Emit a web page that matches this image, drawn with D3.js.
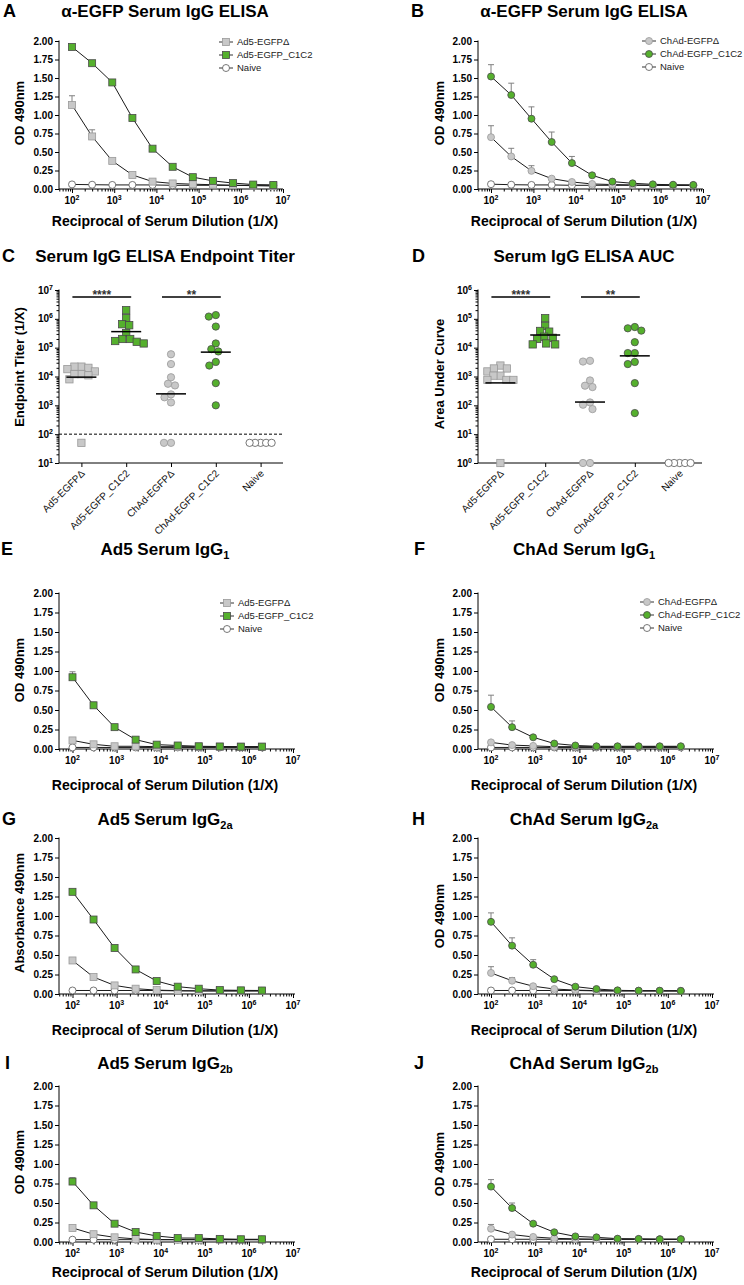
<!DOCTYPE html>
<html><head><meta charset="utf-8">
<script src="https://cdn.jsdelivr.net/npm/d3@7"></script>
<style>body{margin:0;background:#fff}svg{display:block}</style>
</head><body><svg id="c" width="744" height="1285"></svg>
<script>
// ---------------- DATA ----------------
const dilution11 = [100,300,900,2700,8100,24300,72900,218700,656100,1968300,5904900];
const dilution10 = [100,300,900,2700,8100,24300,72900,218700,656100,1968300];
const xMajorTicks = [1e2,1e3,1e4,1e5,1e6,1e7];
const odTicks = [0,0.25,0.5,0.75,1,1.25,1.5,1.75,2];
const legendAd5 = ["Ad5-EGFPΔ","Ad5-EGFP_C1C2","Naive"];
const legendChAd = ["ChAd-EGFPΔ","ChAd-EGFP_C1C2","Naive"];
const groups = ["Ad5-EGFPΔ","Ad5-EGFP_C1C2","ChAd-EGFPΔ","ChAd-EGFP_C1C2","Naive"];

// A
const A_delta    = [1.135,0.71,0.38,0.19,0.10,0.075,0.065,0.058,0.05,0.045,0.04];
const A_deltaErr = [0.125,0.09,0.02,0.01,0.01,0,0,0,0,0,0];
const A_c1c2     = [1.92,1.70,1.44,0.96,0.545,0.30,0.16,0.11,0.08,0.06,0.055];
const A_c1c2Err  = [0.01,0.01,0.01,0.02,0.01,0.01,0,0,0,0,0];
const A_naive    = [0.062,0.058,0.055,0.055,0.055,0.05,0.05,0.05,0.05,0.05,0.05];
// B
const B_delta    = [0.70,0.44,0.245,0.14,0.095,0.068,0.06,0.055,0.05,0.05,0.05];
const B_deltaErr = [0.155,0.11,0.07,0.015,0.01,0,0,0,0,0,0];
const B_c1c2     = [1.52,1.27,0.95,0.635,0.35,0.185,0.10,0.077,0.063,0.058,0.055];
const B_c1c2Err  = [0.16,0.16,0.16,0.135,0.09,0.01,0.01,0,0,0,0];
const B_naive    = [0.065,0.058,0.055,0.055,0.05,0.05,0.05,0.05,0.05,0.05,0.05];
// E  Ad5 IgG1
const E_delta    = [0.11,0.06,0.035,0.035,0.03,0.03,0.03,0.03,0.03,0.03];
const E_deltaErr = [0.02,0.01,0,0,0,0,0,0,0,0];
const E_c1c2     = [0.92,0.56,0.28,0.12,0.056,0.045,0.035,0.032,0.03,0.03];
const E_c1c2Err  = [0.07,0.04,0.01,0.01,0,0,0,0,0,0];
const E_naive    = [0.02,0.02,0.02,0.02,0.02,0.02,0.02,0.02,0.02,0.02];
// F  ChAd IgG1
const F_delta    = [0.085,0.05,0.04,0.03,0.03,0.03,0.03,0.03,0.03,0.03];
const F_deltaErr = [0.01,0.01,0,0,0,0,0,0,0,0];
const F_c1c2     = [0.54,0.28,0.15,0.07,0.045,0.035,0.035,0.035,0.035,0.035];
const F_c1c2Err  = [0.15,0.08,0.01,0.01,0,0,0,0,0,0];
const F_naive    = [0.02,0.02,0.02,0.02,0.02,0.02,0.02,0.02,0.02,0.02];
// G  Ad5 IgG2a
const G_delta    = [0.43,0.217,0.11,0.068,0.05,0.043,0.04,0.04,0.04,0.04];
const G_deltaErr = [0.02,0.01,0.01,0,0,0,0,0,0,0];
const G_c1c2     = [1.31,0.955,0.59,0.315,0.166,0.094,0.068,0.05,0.047,0.045];
const G_c1c2Err  = [0.01,0.01,0.01,0.01,0.01,0,0,0,0,0];
const G_naive    = [0.045,0.045,0.045,0.045,0.045,0.04,0.04,0.04,0.04,0.04];
// H  ChAd IgG2a
const H_delta    = [0.27,0.17,0.10,0.064,0.05,0.043,0.04,0.04,0.04,0.04];
const H_deltaErr = [0.08,0.04,0.01,0,0,0,0,0,0,0];
const H_c1c2     = [0.925,0.62,0.375,0.19,0.094,0.064,0.047,0.043,0.042,0.04];
const H_c1c2Err  = [0.115,0.10,0.065,0.01,0.01,0,0,0,0,0];
const H_naive    = [0.045,0.045,0.045,0.045,0.045,0.04,0.04,0.04,0.04,0.04];
// I  Ad5 IgG2b
const I_delta    = [0.18,0.10,0.06,0.04,0.03,0.03,0.03,0.03,0.03,0.03];
const I_deltaErr = [0.01,0.01,0,0,0,0,0,0,0,0];
const I_c1c2     = [0.775,0.47,0.235,0.128,0.077,0.051,0.05,0.04,0.035,0.035];
const I_c1c2Err  = [0.05,0.01,0.01,0.01,0,0,0,0,0,0];
const I_naive    = [0.03,0.03,0.03,0.03,0.03,0.03,0.03,0.03,0.03,0.03];
// J  ChAd IgG2b
const J_delta    = [0.17,0.095,0.065,0.047,0.04,0.035,0.035,0.035,0.035,0.035];
const J_deltaErr = [0.055,0.01,0.01,0,0,0,0,0,0,0];
const J_c1c2     = [0.71,0.435,0.235,0.125,0.072,0.06,0.043,0.04,0.035,0.035];
const J_c1c2Err  = [0.09,0.065,0.01,0.01,0,0,0,0,0,0];
const J_naive    = [0.035,0.035,0.035,0.035,0.035,0.035,0.035,0.035,0.035,0.035];

// C  Endpoint titers
const titerAd5Delta  = [22000,20000,22000,12000,15000,18000,8000,12000,11000,50];
const titerAd5C1C2   = [2000000,1050000,650000,600000,320000,200000,200000,170000,160000,140000];
const titerChAdDelta = [59000,27000,9400,4900,5600,2400,1900,1260,50,50];
const titerChAdC1C2  = [1200000,1350000,540000,140000,74000,89000,24000,32000,5900,1000];
const titerNaive     = [50,50,50,50,50];
const titerCenter    = [9500,360000,2500,70000];
const titerLimit     = 100;
const titerTicks     = [1e1,1e2,1e3,1e4,1e5,1e6,1e7];
// D  AUC
const aucAd5Delta  = [2400,1500,1900,1900,1070,1070,760,760,760,1];
const aucAd5C1C2   = [105000,57000,38000,36000,24000,22000,20000,13000,14000,13000];
const aucChAdDelta = [3300,3500,730,430,480,105,126,74,1,1];
const aucChAdC1C2  = [47000,39000,52000,15500,6500,6500,2700,3200,590,54];
const aucNaive     = [1,1,1,1,1];
const aucCenter    = [600,27500,130,5200];
const aucTicks     = [1e0,1e1,1e2,1e3,1e4,1e5,1e6];
const sigLabels    = ["****","**"];

// ---------------- DRAWING ----------------
const FONT = '"Liberation Sans", Arial, Helvetica, sans-serif';
const GREEN = "#55b02d", GREEN_S = "#4a4a4a", GRAY = "#c8c8c8", GRAY_S = "#999999", NAIVE_S = "#555";
const svg = d3.select("#c").attr("font-family", FONT);

const styles = {
  delta: {fill: GRAY, stroke: GRAY_S},
  c1c2:  {fill: GREEN, stroke: GREEN_S},
  naive: {fill: "#fff", stroke: NAIVE_S}
};

function drawMarkers(g, pts, shape, st, size) {
  if (shape === "square") {
    g.selectAll(null).data(pts).join("rect")
      .attr("x", d => d[0] - size/2).attr("y", d => d[1] - size/2)
      .attr("width", size).attr("height", size)
      .attr("fill", st.fill).attr("stroke", st.stroke).attr("stroke-width", 0.8);
  } else {
    g.selectAll(null).data(pts).join("circle")
      .attr("cx", d => d[0]).attr("cy", d => d[1]).attr("r", size/2)
      .attr("fill", st.fill).attr("stroke", st.stroke).attr("stroke-width", 0.8);
  }
}

function letter(x, y, s) {
  svg.append("text").attr("x", x).attr("y", y).attr("font-size", 18).attr("font-weight", "bold").text(s);
}
function title(cx, y, main, sub) {
  const t = svg.append("text").attr("x", cx).attr("y", y).attr("text-anchor", "middle")
    .attr("font-size", 17).attr("font-weight", "bold").text(main);
  if (sub) t.append("tspan").attr("font-size", 11).attr("dy", 4).text(sub);
}
function ylabel(x, y, s) {
  svg.append("text").attr("transform", `translate(${x},${y}) rotate(-90)`).attr("dy", "0.35em")
    .attr("text-anchor", "middle").attr("font-size", 13).attr("font-weight", "bold").text(s);
}
function xtitle(cx, y, s) {
  svg.append("text").attr("x", cx).attr("y", y).attr("text-anchor", "middle")
    .attr("font-size", 14).attr("font-weight", "bold").text(s);
}
function powLabel(g, x, y, exp, anchor) {
  const t = g.append("text").attr("x", x).attr("y", y).attr("text-anchor", anchor)
    .attr("font-size", 10).attr("font-weight", "bold").text("10");
  t.append("tspan").attr("font-size", 7).attr("dy", -4).text(exp);
}

function linePanel(p) {
  const g = svg.append("g");
  const x = d3.scaleLog().domain([1e2, 1e7]).range([p.x2, p.x7]);
  const y = d3.scaleLinear().domain([0, 2]).range([p.yBot, p.yTop]);
  // y axis
  const ya = g.append("g").attr("transform", `translate(${p.axisX},0)`)
    .call(d3.axisLeft(y).tickValues(odTicks).tickFormat(d3.format(".2f")).tickSize(4).tickPadding(2));
  ya.select(".domain").remove();
  ya.attr("font-family", FONT).attr("font-size", 10).attr("font-weight", "bold");
  ya.selectAll("text").attr("fill", "#000");
  g.append("line").attr("x1", p.axisX).attr("x2", p.axisX).attr("y1", p.yTop - 0.5).attr("y2", p.yBot).attr("stroke", "#000");
  // x axis
  const minors = [];
  for (let k = 1; k < 7; k++) for (let m = 2; m < 10; m++) { const v = m * Math.pow(10, k); if (x(v) >= p.axisX) minors.push(v); }
  const xa1 = g.append("g").attr("transform", `translate(0,${p.yBot})`)
    .call(d3.axisBottom(x).tickValues(xMajorTicks).tickSize(4).tickFormat(""));
  const xa2 = g.append("g").attr("transform", `translate(0,${p.yBot})`)
    .call(d3.axisBottom(x).tickValues(minors).tickSize(2.5).tickFormat(""));
  xa1.select(".domain").remove(); xa2.select(".domain").remove();
  g.append("line").attr("x1", p.axisX).attr("x2", p.xEnd).attr("y1", p.yBot).attr("y2", p.yBot).attr("stroke", "#000");
  xMajorTicks.forEach(v => powLabel(g, x(v), p.yBot + 15, String(Math.round(Math.log10(v))), "middle"));
  // series
  const dil = p.dil;
  const line = d3.line().x((d, i) => x(dil[i])).y(d => y(d));
  const order = ["naive", "delta", "c1c2"];
  order.forEach(k => {
    g.append("path").datum(p.series[k].vals).attr("d", line).attr("fill", "none").attr("stroke", "#1a1a1a").attr("stroke-width", 1);
  });
  order.forEach(k => {
    const s = p.series[k];
    if (!s.err) return;
    const eb = s.vals.map((v, i) => ({x: x(dil[i]), y0: y(v), y1: y(v + s.err[i]), e: s.err[i]})).filter(d => d.e > 0.015);
    g.selectAll(null).data(eb).join("path")
      .attr("d", d => `M${d.x},${d.y0}V${d.y1}M${d.x - 3},${d.y1}H${d.x + 3}`)
      .attr("fill", "none").attr("stroke", "#808080").attr("stroke-width", 1);
  });
  order.forEach(k => {
    const s = p.series[k];
    const pts = s.vals.map((v, i) => [x(dil[i]), y(v)]);
    drawMarkers(g, pts, k === "naive" ? "circle" : p.shape, styles[k], 7);
  });
  // legend
  if (p.legend) {
    const keys = ["delta", "c1c2", "naive"];
    p.legend.forEach((name, i) => {
      const cy = p.legY + i * 13;
      g.append("line").attr("x1", p.legX - 7).attr("x2", p.legX + 7).attr("y1", cy).attr("y2", cy).attr("stroke", "#333");
      drawMarkers(g, [[p.legX, cy]], keys[i] === "naive" ? "circle" : p.shape, styles[keys[i]], 7);
      g.append("text").attr("x", p.legX + 11).attr("y", cy + 3.4).attr("font-size", 9.5).attr("fill", "#222").text(name);
    });
  }
  letter(p.letterX, p.titleY, p.letter);
  title(p.titleX, p.titleY, p.title, p.sub);
  ylabel(p.ylabX, p.ylabY, p.ylab);
  xtitle(p.titleX, p.xtitleY, "Reciprocal of Serum Dilution (1/X)");
}

// beeswarm: place each point at the smallest horizontal offset that avoids overlap
function swarmOffsets(values, yScale, minDist) {
  const idx = values.map((v, i) => i).sort((a, b) => values[b] - values[a]);
  const placed = [], off = new Array(values.length).fill(0);
  idx.forEach(i => {
    const yy = yScale(values[i]);
    for (let k = 0; k < 80; k++) {
      const o = k === 0 ? 0 : (k % 2 ? -1 : 1) * Math.ceil(k / 2) * 0.5;
      if (placed.every(p => Math.hypot(p[0] - o, p[1] - yy) >= minDist - 1e-6)) { off[i] = o; placed.push([o, yy]); break; }
    }
  });
  return off;
}

function scatterPanel(p) {
  const g = svg.append("g");
  const x = d3.scalePoint().domain(groups).range([p.x0, p.x1]).padding(0.5);
  const y = d3.scaleLog().domain(p.domain).range([p.yBot, p.yTop]);
  // y axis
  const lo = Math.round(Math.log10(p.domain[0])), hi = Math.round(Math.log10(p.domain[1]));
  const minors = [];
  for (let k = lo; k < hi; k++) for (let m = 2; m < 10; m++) minors.push(m * Math.pow(10, k));
  const ya1 = g.append("g").attr("transform", `translate(${p.x0},0)`).call(d3.axisLeft(y).tickValues(p.ticks).tickSize(4).tickFormat(""));
  const ya2 = g.append("g").attr("transform", `translate(${p.x0},0)`).call(d3.axisLeft(y).tickValues(minors).tickSize(2.5).tickFormat(""));
  ya1.select(".domain").remove(); ya2.select(".domain").remove();
  g.append("line").attr("x1", p.x0).attr("x2", p.x0).attr("y1", p.yTop - 0.5).attr("y2", p.yBot).attr("stroke", "#000");
  p.ticks.forEach(v => powLabel(g, p.x0 - 6, y(v) + 3.5, String(Math.round(Math.log10(v))), "end"));
  // x axis
  g.append("line").attr("x1", p.x0).attr("x2", p.x1).attr("y1", p.yBot).attr("y2", p.yBot).attr("stroke", "#000");
  const xa = g.append("g").attr("transform", `translate(0,${p.yBot})`).call(d3.axisBottom(x).tickSize(4).tickFormat(""));
  xa.select(".domain").remove();
  groups.forEach(c => {
    g.append("text").attr("transform", `translate(${x(c) + 4},${p.yBot + 11}) rotate(-45)`)
      .attr("text-anchor", "end").attr("font-size", 10).attr("fill", "#111").text(c);
  });
  if (p.limit) {
    g.append("line").attr("x1", p.x0).attr("x2", p.x1).attr("y1", y(p.limit)).attr("y2", y(p.limit))
      .attr("stroke", "#000").attr("stroke-dasharray", "3,2");
  }
  // points
  const shapes = ["square", "square", "circle", "circle", "circle"];
  const st = [styles.delta, styles.c1c2, styles.delta, styles.c1c2, styles.naive];
  p.sets.forEach((vals, gi) => {
    const off = swarmOffsets(vals, y, gi === 4 ? 5.4 : 7);
    const pts = vals.map((v, i) => [x(groups[gi]) + off[i], y(v)]);
    drawMarkers(g, pts, shapes[gi], st[gi], 7.3);
  });
  // center lines
  p.center.forEach((v, gi) => {
    const cx = x(groups[gi]);
    g.append("line").attr("x1", cx - 15).attr("x2", cx + 15).attr("y1", y(v)).attr("y2", y(v))
      .attr("stroke", "#000").attr("stroke-width", 1.5);
  });
  // significance
  [[0, 1], [2, 3]].forEach((pr, k) => {
    const xa_ = x(groups[pr[0]]) - 9, xb_ = x(groups[pr[1]]) + 5;
    g.append("line").attr("x1", xa_).attr("x2", xb_).attr("y1", p.sigY).attr("y2", p.sigY).attr("stroke", "#000").attr("stroke-width", 1.4);
    g.append("text").attr("x", (xa_ + xb_) / 2).attr("y", p.sigY + 2).attr("text-anchor", "middle")
      .attr("font-size", 12).attr("font-weight", "bold").attr("fill", "#333").text(sigLabels[k]);
  });
  letter(p.letterX, p.titleY, p.letter);
  title(p.titleX, p.titleY, p.title);
  ylabel(p.ylabX, p.ylabY, p.ylab);
}

// ---------------- PANELS ----------------
linePanel({letter: "A", letterX: 3, title: "α-EGFP Serum IgG ELISA", titleX: 165, titleY: 17,
  axisX: 59, x2: 72, x7: 283, xEnd: 283, yTop: 41, yBot: 189, dil: dilution11, shape: "square",
  series: {delta: {vals: A_delta, err: A_deltaErr}, c1c2: {vals: A_c1c2, err: A_c1c2Err}, naive: {vals: A_naive}},
  legend: legendAd5, legX: 226, legY: 42, ylab: "OD 490nm", ylabX: 19, ylabY: 113, xtitleY: 226});
linePanel({letter: "B", letterX: 411, title: "α-EGFP Serum IgG ELISA", titleX: 584, titleY: 17,
  axisX: 478, x2: 491, x7: 703, xEnd: 703, yTop: 41, yBot: 189, dil: dilution11, shape: "circle",
  series: {delta: {vals: B_delta, err: B_deltaErr}, c1c2: {vals: B_c1c2, err: B_c1c2Err}, naive: {vals: B_naive}},
  legend: legendChAd, legX: 649, legY: 41, ylab: "OD 490nm", ylabX: 439, ylabY: 113, xtitleY: 226});

scatterPanel({letter: "C", letterX: 2, title: "Serum IgG ELISA Endpoint Titer", titleX: 165, titleY: 262,
  x0: 59, x1: 283, yTop: 290, yBot: 463, domain: [1e1, 1e7], ticks: titerTicks, limit: titerLimit,
  sets: [titerAd5Delta, titerAd5C1C2, titerChAdDelta, titerChAdC1C2, titerNaive], center: titerCenter,
  sigY: 297, ylab: "Endpoint Titer (1/X)", ylabX: 19, ylabY: 367});
scatterPanel({letter: "D", letterX: 412, title: "Serum IgG ELISA AUC", titleX: 584, titleY: 262,
  x0: 478, x1: 702, yTop: 290, yBot: 463, domain: [1e0, 1e6], ticks: aucTicks, limit: null,
  sets: [aucAd5Delta, aucAd5C1C2, aucChAdDelta, aucChAdC1C2, aucNaive], center: aucCenter,
  sigY: 297, ylab: "Area Under Curve", ylabX: 439, ylabY: 374});

const lowerPanels = [
  {letter: "E", letterX: 1, title: "Ad5 Serum IgG", sub: "1", left: true, yTop: 593, yBot: 749, titleY: 555, xtitleY: 790,
   s: [E_delta, E_deltaErr, E_c1c2, E_c1c2Err, E_naive], legend: legendAd5, legY: 603, ylab: "OD 490nm", ylabY: 670},
  {letter: "F", letterX: 414, title: "ChAd Serum IgG", sub: "1", left: false, yTop: 593, yBot: 749, titleY: 555, xtitleY: 790,
   s: [F_delta, F_deltaErr, F_c1c2, F_c1c2Err, F_naive], legend: legendChAd, legY: 602, ylab: "OD 490nm", ylabY: 670},
  {letter: "G", letterX: 2, title: "Ad5 Serum IgG", sub: "2a", left: true, yTop: 838, yBot: 994, titleY: 825, xtitleY: 1035,
   s: [G_delta, G_deltaErr, G_c1c2, G_c1c2Err, G_naive], legend: null, ylab: "Absorbance 490nm", ylabY: 913},
  {letter: "H", letterX: 412, title: "ChAd Serum IgG", sub: "2a", left: false, yTop: 838, yBot: 994, titleY: 825, xtitleY: 1035,
   s: [H_delta, H_deltaErr, H_c1c2, H_c1c2Err, H_naive], legend: null, ylab: "OD 490nm", ylabY: 916},
  {letter: "I", letterX: 5, title: "Ad5 Serum IgG", sub: "2b", left: true, yTop: 1086, yBot: 1242, titleY: 1069, xtitleY: 1277,
   s: [I_delta, I_deltaErr, I_c1c2, I_c1c2Err, I_naive], legend: null, ylab: "OD 490nm", ylabY: 1162},
  {letter: "J", letterX: 414, title: "ChAd Serum IgG", sub: "2b", left: false, yTop: 1086, yBot: 1242, titleY: 1069, xtitleY: 1277,
   s: [J_delta, J_deltaErr, J_c1c2, J_c1c2Err, J_naive], legend: null, ylab: "OD 490nm", ylabY: 1164}
];
lowerPanels.forEach(q => {
  linePanel({letter: q.letter, letterX: q.letterX, title: q.title, sub: q.sub,
    titleX: q.left ? 165 : 584, titleY: q.titleY,
    axisX: q.left ? 59 : 478, x2: q.left ? 72.5 : 491, x7: q.left ? 293 : 712, xEnd: q.left ? 295 : 714,
    yTop: q.yTop, yBot: q.yBot, dil: dilution10, shape: q.left ? "square" : "circle",
    series: {delta: {vals: q.s[0], err: q.s[1]}, c1c2: {vals: q.s[2], err: q.s[3]}, naive: {vals: q.s[4]}},
    legend: q.legend, legX: q.left ? 227 : 647, legY: q.legY,
    ylab: q.ylab, ylabX: q.left ? 19 : 439, ylabY: q.ylabY, xtitleY: q.xtitleY});
});
</script></body></html>
